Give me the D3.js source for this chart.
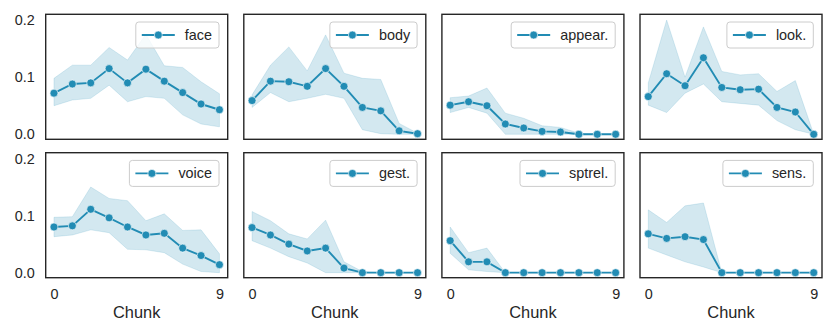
<!DOCTYPE html>
<html>
<head>
<meta charset="utf-8">
<script src="https://cdn.jsdelivr.net/npm/d3@7"></script>
<style>
  body { margin: 0; background: #fff; }
  svg text { font-family: "Liberation Sans", Arial, sans-serif; fill: #262626; }
</style>
</head>
<body>
<div id="chart"></div>
<script>
// chunk index on the x axis
const chunks = [0, 1, 2, 3, 4, 5, 6, 7, 8, 9];
const categories = ["face", "body", "appear.", "look.", "voice", "gest.", "sptrel.", "sens."];
const yTicks = [0.0, 0.1, 0.2];
const xTicks = [0, 9];

// mean + confidence band
const faceMean = [0.072, 0.088, 0.090, 0.115, 0.090, 0.114, 0.093, 0.073, 0.053, 0.043];
const faceLow  = [0.050, 0.060, 0.063, 0.086, 0.057, 0.066, 0.063, 0.034, 0.018, 0.013];
const faceHigh = [0.098, 0.121, 0.121, 0.152, 0.130, 0.175, 0.120, 0.117, 0.092, 0.071];

const bodyMean = [0.059, 0.093, 0.092, 0.084, 0.115, 0.084, 0.047, 0.041, 0.006, 0.001];
const bodyLow  = [0.047, 0.073, 0.057, 0.063, 0.070, 0.063, 0.008, 0.001, 0.000, 0.000];
const bodyHigh = [0.069, 0.121, 0.153, 0.111, 0.174, 0.107, 0.098, 0.096, 0.019, 0.002];

const appearMean = [0.051, 0.057, 0.050, 0.018, 0.011, 0.005, 0.004, 0.000, 0.000, 0.000];
const appearLow  = [0.038, 0.047, 0.037, 0.000, 0.000, 0.000, 0.000, 0.000, 0.000, 0.000];
const appearHigh = [0.064, 0.067, 0.081, 0.037, 0.028, 0.015, 0.012, 0.002, 0.000, 0.000];

const lookMean = [0.066, 0.106, 0.085, 0.134, 0.082, 0.078, 0.079, 0.047, 0.039, 0.000];
const lookLow  = [0.051, 0.038, 0.072, 0.088, 0.057, 0.054, 0.051, 0.024, 0.008, 0.000];
const lookHigh = [0.090, 0.200, 0.100, 0.188, 0.110, 0.104, 0.106, 0.075, 0.094, 0.000];

const voiceMean = [0.080, 0.082, 0.111, 0.096, 0.080, 0.066, 0.069, 0.043, 0.030, 0.014];
const voiceLow  = [0.063, 0.066, 0.075, 0.070, 0.041, 0.040, 0.035, 0.015, 0.002, 0.000];
const voiceHigh = [0.097, 0.098, 0.150, 0.130, 0.126, 0.091, 0.103, 0.074, 0.075, 0.033];

const gestMean = [0.079, 0.066, 0.050, 0.038, 0.043, 0.008, 0.000, 0.000, 0.000, 0.000];
const gestLow  = [0.056, 0.043, 0.028, 0.017, 0.000, 0.000, 0.000, 0.000, 0.000, 0.000];
const gestHigh = [0.107, 0.091, 0.068, 0.059, 0.092, 0.019, 0.002, 0.000, 0.000, 0.000];

const sptrelMean = [0.056, 0.019, 0.019, 0.000, 0.000, 0.000, 0.000, 0.000, 0.000, 0.000];
const sptrelLow  = [0.034, 0.005, 0.002, 0.000, 0.000, 0.000, 0.000, 0.000, 0.000, 0.000];
const sptrelHigh = [0.080, 0.035, 0.043, 0.000, 0.000, 0.000, 0.000, 0.000, 0.000, 0.000];

const sensMean = [0.068, 0.060, 0.063, 0.058, 0.000, 0.000, 0.000, 0.000, 0.000, 0.000];
const sensLow  = [0.043, 0.031, 0.019, 0.010, 0.000, 0.000, 0.000, 0.000, 0.000, 0.000];
const sensHigh = [0.110, 0.088, 0.117, 0.122, 0.000, 0.000, 0.000, 0.000, 0.000, 0.000];

const panels = [
  { name: categories[0], mean: faceMean, low: faceLow, high: faceHigh },
  { name: categories[1], mean: bodyMean, low: bodyLow, high: bodyHigh },
  { name: categories[2], mean: appearMean, low: appearLow, high: appearHigh },
  { name: categories[3], mean: lookMean, low: lookLow, high: lookHigh },
  { name: categories[4], mean: voiceMean, low: voiceLow, high: voiceHigh },
  { name: categories[5], mean: gestMean, low: gestLow, high: gestHigh },
  { name: categories[6], mean: sptrelMean, low: sptrelLow, high: sptrelHigh },
  { name: categories[7], mean: sensMean, low: sensLow, high: sensHigh }
];

const width = 831, height = 322;
const color = "#228cb4";
const pw = 182, ph = 125;
const left0 = 45.7, colStep = 198.1;
const rowTops = [14.3, 152.7];

const svg = d3.select("#chart").append("svg")
  .attr("width", width)
  .attr("height", height);

const x = d3.scaleLinear().domain([-0.45, 9.45]).range([0, pw]);
const y = d3.scaleLinear().domain([-0.0088, 0.2101]).range([ph, 0]);

const area = d3.area()
  .x((d, i) => x(chunks[i]))
  .y0(d => y(d[0]))
  .y1(d => y(d[1]));
const line = d3.line()
  .x((d, i) => x(chunks[i]))
  .y(d => y(d));

panels.forEach((p, k) => {
  const row = Math.floor(k / 4), col = k % 4;
  const g = svg.append("g")
    .attr("transform", `translate(${left0 + col * colStep},${rowTops[row]})`);

  const band = p.low.map((v, i) => [v, p.high[i]]);
  g.append("path")
    .attr("d", area(band))
    .attr("fill", color)
    .attr("fill-opacity", 0.2)
    .attr("stroke", color)
    .attr("stroke-opacity", 0.15)
    .attr("stroke-width", 1);

  g.append("path")
    .attr("d", line(p.mean))
    .attr("fill", "none")
    .attr("stroke", color)
    .attr("stroke-width", 1.9);

  g.selectAll(".dot")
    .data(p.mean)
    .enter()
    .append("circle")
    .attr("cx", (d, i) => x(chunks[i]))
    .attr("cy", d => y(d))
    .attr("r", 4)
    .attr("fill", color)
    .attr("stroke", "#fff")
    .attr("stroke-width", 0.6);

  // frame
  g.append("rect")
    .attr("width", pw)
    .attr("height", ph)
    .attr("fill", "none")
    .attr("stroke", "#262626")
    .attr("stroke-width", 1.4);

  // y tick labels on first column
  if (col === 0) {
    const yAxis = d3.axisLeft(y).tickValues(yTicks).tickFormat(d3.format(".1f")).tickSize(0).tickPadding(11);
    const ya = g.append("g").call(yAxis);
    ya.select(".domain").remove();
    ya.selectAll("text").style("font-size", "14.4px").attr("fill", "#262626");
  }

  // x tick labels + label on bottom row
  if (row === 1) {
    const xAxis = d3.axisBottom(x).tickValues(xTicks).tickFormat(d3.format("d")).tickSize(0).tickPadding(11);
    const xa = g.append("g").attr("transform", `translate(0,${ph})`).call(xAxis);
    xa.select(".domain").remove();
    xa.selectAll("text").style("font-size", "14.4px").attr("fill", "#262626");
    g.append("text")
      .attr("x", pw / 2)
      .attr("y", ph + 40.5)
      .attr("text-anchor", "middle")
      .style("font-size", "16.4px")
      .text("Chunk");
  }

  // legend, upper right
  const lg = g.append("g");
  const txt = lg.append("text")
    .attr("y", 13)
    .attr("dy", "0.35em")
    .style("font-size", "14.4px")
    .text(p.name);
  const tw = txt.node().getComputedTextLength();
  const bw = tw + 56, bh = 26;
  const bx = pw - 8.7 - bw, by = 7.7;
  lg.attr("transform", `translate(${bx},${by})`);
  lg.insert("rect", "text")
    .attr("width", bw)
    .attr("height", bh)
    .attr("rx", 3)
    .attr("fill", "#fff")
    .attr("fill-opacity", 0.8)
    .attr("stroke", "#cccccc")
    .attr("stroke-width", 1);
  txt.attr("x", 49);
  lg.insert("line", "text")
    .attr("x1", 6).attr("x2", 39)
    .attr("y1", 13).attr("y2", 13)
    .attr("stroke", color)
    .attr("stroke-width", 1.9);
  lg.insert("circle", "text")
    .attr("cx", 22.5).attr("cy", 13)
    .attr("r", 4)
    .attr("fill", color)
    .attr("stroke", "#fff")
    .attr("stroke-width", 0.6);
});
</script>
</body>
</html>
